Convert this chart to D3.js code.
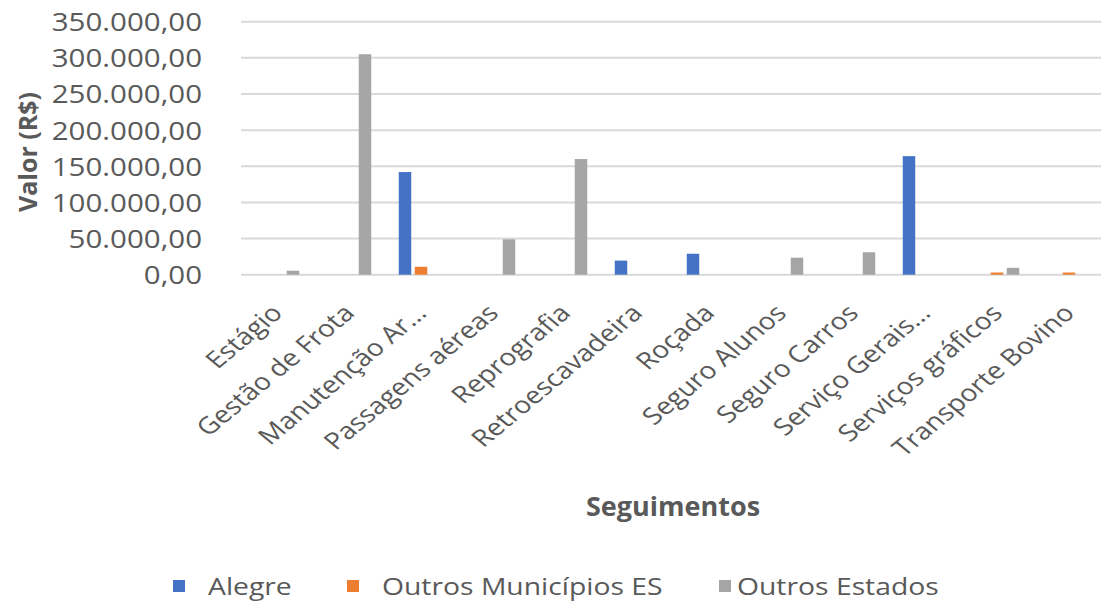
<!DOCTYPE html>
<html>
<head>
<meta charset="utf-8">
<script src="https://cdn.jsdelivr.net/npm/d3@7"></script>
<style>
  html, body { margin: 0; padding: 0; background: #ffffff; }
  svg { display: block; }
  text { font-family: "Open Sans", "Noto Sans", sans-serif; }
</style>
</head>
<body>
<svg id="chart" width="1101" height="603"></svg>
<script>
// Contract values by segment (R$)
const categories = [
  "Estágio", "Gestão de Frota", "Manutenção Ar…", "Passagens aéreas",
  "Reprografia", "Retroescavadeira", "Roçada", "Seguro Alunos",
  "Seguro Carros", "Serviço Gerais…", "Serviços gráficos", "Transporte Bovino"
];
const seriesNames = ["Alegre", "Outros Municípios ES", "Outros Estados"];
const alegre           = [0, 0, 142000, 0, 0, 19500, 29000, 0, 0, 164000, 0, 0];
const outrosMunicipios = [0, 0, 11000, 0, 0, 0, 0, 0, 0, 0, 3000, 3000];
const outrosEstados    = [5500, 305000, 0, 49000, 160000, 0, 0, 23500, 31000, 0, 9500, 0];
const yTicks = [0, 50000, 100000, 150000, 200000, 250000, 300000, 350000];
const colors = ["#4472C4", "#ED7D31", "#A5A5A5"];

const seriesValues = [alegre, outrosMunicipios, outrosEstados];
const rows = categories.map((c, i) => ({
  cat: c,
  vals: seriesValues.map((s, k) => ({ key: seriesNames[k], k, v: s[i] }))
}));

const svg = d3.select("#chart");
// plot area runs slightly past the right edge of the canvas
const plot = { left: 241, right: 1105, top: 21.7, bottom: 274.7 };
const textStretch = 1.18; // the whole layout is slightly widened

const x0 = d3.scaleBand().domain(categories).range([plot.left, plot.right])
  .paddingInner(0.382).paddingOuter(0.191);
const x1 = d3.scaleBand().domain(seriesNames).range([0, x0.bandwidth()]).paddingInner(0.219);
const y = d3.scaleLinear().domain([0, 350000]).range([plot.bottom, plot.top]);

const fmt = v => {
  const s = d3.format(",.2f")(v);
  return s.replace(/,/g, "#").replace(".", ",").replace(/#/g, ".");
};

// horizontal gridlines
svg.append("g").selectAll("line").data(yTicks).join("line")
  .attr("x1", plot.left).attr("x2", plot.right)
  .attr("y1", d => y(d)).attr("y2", d => y(d))
  .attr("stroke", "#d9d9d9").attr("stroke-width", 2);

// y axis labels
const yAxis = d3.axisLeft(y).tickValues(yTicks).tickFormat(fmt).tickSize(0).tickPadding(0);
const yg = svg.append("g").attr("transform", `translate(${plot.left - 39},0)`).call(yAxis);
yg.select(".domain").remove();
yg.selectAll("text").attr("font-size", 25).attr("fill", "#595959")
  .attr("font-family", "\"Open Sans\", sans-serif").attr("dy", "0.36em")
  .attr("transform", `scale(${textStretch},1)`);

// bars
svg.append("g").selectAll("g").data(rows).join("g")
  .attr("transform", d => `translate(${x0(d.cat)},0)`)
  .selectAll("rect").data(d => d.vals.filter(e => e.v > 0)).join("rect")
  .attr("x", d => x1(d.key))
  .attr("width", x1.bandwidth())
  .attr("y", d => y(d.v))
  .attr("height", d => y(0) - y(d.v))
  .attr("fill", d => colors[d.k]);

// category labels, rotated
const xAxis = d3.axisBottom(x0).tickSize(0).tickPadding(0);
const xg = svg.append("g").attr("transform", `translate(0,${plot.bottom})`).call(xAxis);
xg.select(".domain").remove();
xg.selectAll("text")
  .attr("font-size", 23.5).attr("fill", "#595959")
  .attr("font-family", "\"Open Sans\", sans-serif")
  .attr("text-anchor", "end")
  .attr("transform", `translate(0,34) scale(1.2,1) rotate(-45)`)
  .attr("y", 0).attr("dy", "0.35em");

// axis titles
svg.append("text").attr("x", 673).attr("y", 516)
  .attr("text-anchor", "middle").attr("font-size", 27).attr("font-weight", "bold")
  .attr("fill", "#595959").text("Seguimentos");

svg.append("text").attr("transform", "translate(37,152) rotate(-90)")
  .attr("text-anchor", "middle").attr("font-size", 25).attr("font-weight", "bold")
  .attr("fill", "#595959").text("Valor (R$)");

// legend
const legendX = [173, 347, 719];
const lg = svg.append("g").selectAll("g").data(seriesNames).join("g")
  .attr("transform", (d, i) => `translate(${legendX[i]},580)`);
lg.append("rect").attr("width", 12).attr("height", 12).attr("fill", (d, i) => colors[i]);
lg.append("text")
  .attr("transform", (d, i) => `translate(${i === 2 ? 18 : 35},6) scale(${textStretch},1)`)
  .attr("dy", "0.36em")
  .attr("font-size", 24).attr("fill", "#595959").text(d => d);
</script>
</body>
</html>
